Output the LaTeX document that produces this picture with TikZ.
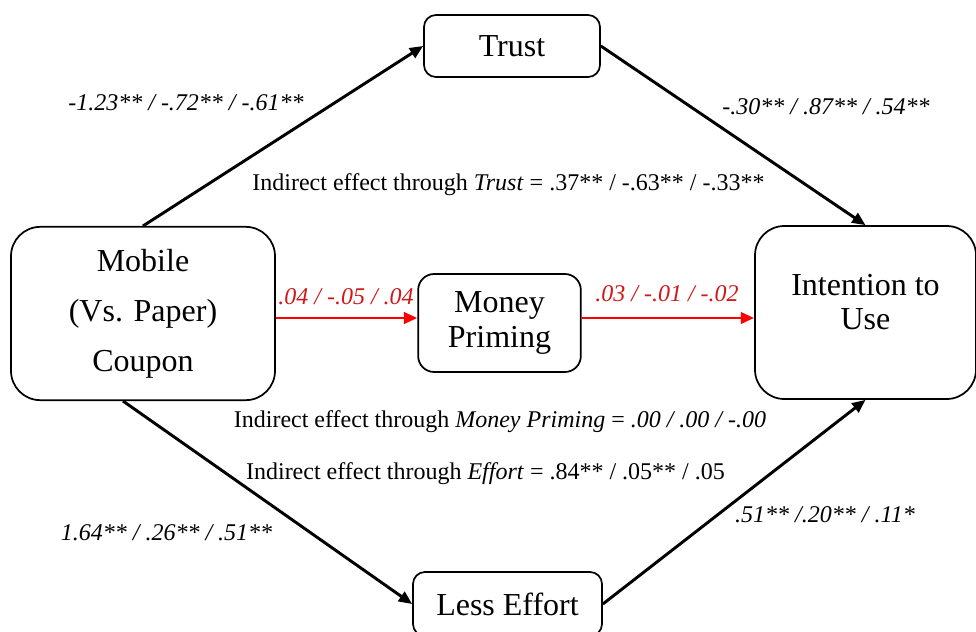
\documentclass[tikz,border=0pt]{standalone}
\usepackage{fontspec}
\setmainfont{Liberation Serif}
\usetikzlibrary{arrows.meta}
\definecolor{pathRed}{HTML}{FF0000}
\definecolor{coefRed}{HTML}{D01818}

\begin{document}
\begin{tikzpicture}[x=0.75pt, y=-0.75pt,
  var/.style={draw, line width=1.3pt, rounded corners=9pt, align=center,
              font=\fontsize{24}{26}\selectfont, inner sep=0pt},
  effarrow/.style={line width=2.2pt, -{Triangle[length=10pt,width=8.5pt]}},
  coef/.style={font=\fontsize{18}{20}\selectfont\itshape},
  note/.style={font=\fontsize{18}{20}\selectfont},
]
  \useasboundingbox (0,0) rectangle (976,632);

  % variables
  \node[var, minimum width=198pt, minimum height=130pt, rounded corners=22pt,
        font=\fontsize{24}{37.5}\selectfont] (mobile) at (143,313.5) {Mobile\\(Vs. Paper)\\Coupon};
  \node[var, minimum width=132pt, minimum height=46.5pt] (trust) at (512,46) {Trust};
  \node[var, minimum width=122pt, minimum height=73.5pt, rounded corners=12pt] (money) at (499.5,323) {Money\\Priming};
  \node[var, minimum width=165.75pt, minimum height=129.75pt, rounded corners=22pt,
        text depth=16pt] (intent) at (865.5,312.5) {Intention to\\Use};
  \node[var, minimum width=141.75pt, minimum height=48pt] (effort) at (507.5,604) {Less Effort};

  % paths
  \coordinate (primeLine) at ([yshift=3.75pt]money.west);
  \draw[effarrow] (mobile.north) -- (trust.west);
  \draw[effarrow] (trust.east) -- (intent.north);
  \draw[effarrow] ([xshift=-15pt]mobile.south) -- (effort.west);
  \draw[effarrow] (effort.east) -- (intent.south);
  \draw[effarrow, draw=pathRed] (mobile.east |- primeLine) -- (primeLine);
  \draw[effarrow, draw=pathRed] (money.east |- primeLine) -- (intent.west |- primeLine);

  % coefficients
  \node[coef] (aTrust) at (186,103) {-1.23** / -.72** / -.61**};
  \node[coef] (bTrust) at (826,107) {-.30** / .87** / .54**};
  \node[coef, text=coefRed] (aMoney) at (346,297) {.04 / -.05 / .04};
  \node[coef, text=coefRed] (bMoney) at (667,294) {.03 / -.01 / -.02};
  \node[coef] (aEffort) at (166.5,533) {1.64** / .26** / .51**};
  \node[coef] (bEffort) at (825,515) {.51** /.20** / .11*};

  % indirect effects
  \node[note] (indTrust) at (508.5,185) {Indirect effect through \textit{Trust} = .37** / -.63** / -.33**};
  \node[note] (indMoney) at (500,422) {Indirect effect through \textit{Money Priming} = \textit{.00 / .00 / -.00}};
  \node[note] (indEffort) at (485.5,474) {Indirect effect through \textit{Effort} = .84** / .05** / .05};
\end{tikzpicture}
\end{document}
